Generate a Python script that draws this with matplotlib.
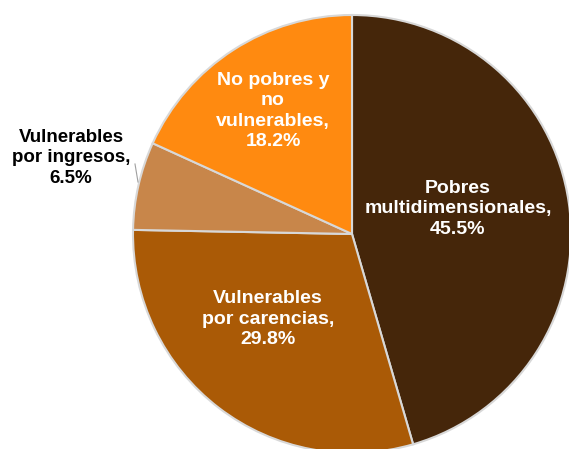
import matplotlib.pyplot as plt

# Datos del gráfico
categorias = ['Pobres\nmultidimensionales,', 'Vulnerables\npor carencias,',
              'Vulnerables\npor ingresos,', 'No pobres y\nno\nvulnerables,']
porcentajes = [45.5, 29.8, 6.5, 18.2]
colores = ['#45260A', '#AA5A06', '#C8864A', '#FF8A10']

fig = plt.figure(figsize=(5.69, 4.49), dpi=100)
ax = fig.add_axes([0, 0, 1, 1])

# Pie en coordenadas de pixeles
centro = (352, 215)
radio = 219
wedges, _ = ax.pie(porcentajes, colors=colores, startangle=90, counterclock=False,
                   center=centro, radius=radio, explode=[0.015, 0, 0, 0],
                   wedgeprops=dict(edgecolor='#d8d8d8', linewidth=1.5))

ax.set_xlim(0, 569)
ax.set_ylim(0, 449)
ax.set_aspect('equal')
ax.axis('off')

fuente = dict(family='Liberation Sans', weight='bold', fontsize=14, ha='center', va='center',
              linespacing=1.28)

# Etiquetas dentro de los sectores
ax.text(458, 449 - 209, f'{categorias[0]}\n{porcentajes[0]}%', color='white', **fuente)
ax.text(268, 449 - 319, f'{categorias[1]}\n{porcentajes[1]}%', color='white', **fuente)
ax.text(273, 449 - 111, f'{categorias[3]}\n{porcentajes[3]}%', color='white', **fuente)

# Etiqueta fuera con linea guia
ax.text(71, 449 - 158, f'{categorias[2]}\n{porcentajes[2]}%', color='black',
        **dict(fuente, fontsize=13.5))
ax.plot([135, 138], [449 - 164, 449 - 182], color='#a0a0a0', linewidth=0.8)

fig.savefig('out.png', dpi=100)
